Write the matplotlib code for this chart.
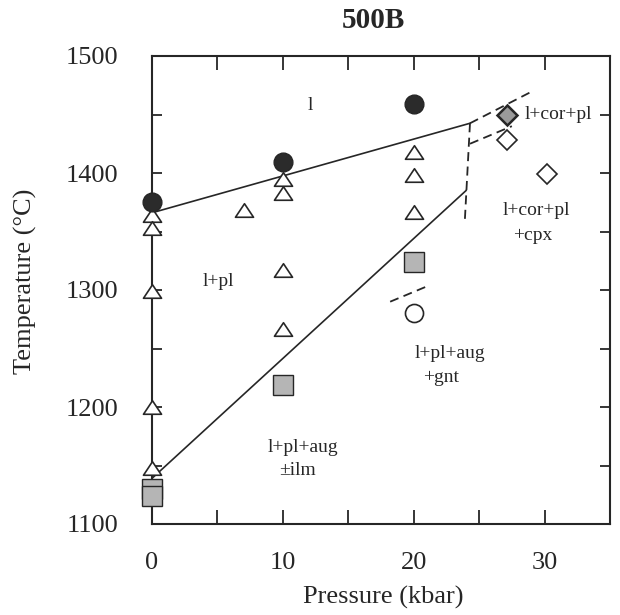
"""
500B 상평형도 (Pressure-Temperature)
"""
import matplotlib
matplotlib.use("Agg")
import matplotlib.pyplot as plt
from matplotlib.path import Path

plt.rcParams["font.family"] = ["Liberation Serif", "DejaVu Serif"]

# --- 실험 데이터 (kbar, °C) ---
liq_p = [0, 10, 20]
liq_t = [1375, 1409, 1459]

pl_p = [0, 0, 0, 0, 0, 7, 10, 10, 10, 10, 20, 20, 20]
pl_t = [1364, 1353, 1299, 1200, 1148, 1368, 1395, 1383, 1317, 1267, 1418, 1398, 1367]

aug_p = [0, 0, 10, 20]
aug_t = [1130, 1124, 1219, 1324]

gnt_p = [20]
gnt_t = [1280]

cor_pl_p = [27.1]
cor_pl_t = [1449.6]
cpx_p = [27.1, 30.15]
cpx_t = [1428, 1399]

# --- 상경계 ---
liquidus_p = [0, 24.3]
liquidus_t = [1366, 1442.5]
solidus_p = [0, 24.0]
solidus_t = [1139, 1385]

dashed_lines = [
    ([24.3, 23.9], [1442.5, 1358]),
    ([24.3, 29.0], [1442.5, 1469.5]),
    ([24.3, 27.5], [1425, 1440]),
    ([18.2, 21.2], [1290, 1304]),
]

# 영역 라벨: (텍스트, P, T)
labels = [
    ("l", 12.1, 1458),
    ("l+pl", 5.05, 1307),
    ("l+pl+aug", 11.55, 1165),
    ("\u00b1ilm", 11.1, 1146),
    ("l+pl+aug", 22.8, 1246),
    ("+gnt", 22.1, 1225),
    ("l+cor+pl", 31.05, 1449.6),
    ("l+cor+pl", 29.35, 1368),
    ("+cpx", 29.1, 1347),
]

x_major = [0, 10, 20, 30]
x_minor = [5, 15, 25]
y_major = [1100, 1200, 1300, 1400, 1500]
y_minor = [1150, 1250, 1350, 1450]

ink = "#262626"
# 옆으로 약간 넓은 삼각형 (닫힌 경로)
tri = Path([(-1, -0.75), (1, -0.75), (0, 0.75), (-1, -0.75)], closed=True)

fig = plt.figure(figsize=(6.2, 6.15), dpi=100)
ax = fig.add_axes([152 / 620, 1 - 524 / 615, 458 / 620, 468 / 615])

ax.plot(liquidus_p, liquidus_t, color=ink, lw=1.2, zorder=2)
ax.plot(solidus_p, solidus_t, color=ink, lw=1.2, zorder=2)
for px, pt in dashed_lines:
    ax.plot(px, pt, color=ink, lw=1.3, dashes=(5, 3), zorder=2)

mk = dict(ls="none", clip_on=False)
ax.plot(pl_p, pl_t, marker=tri, ms=13, mfc="white", mec=ink, mew=1.2, zorder=3, **mk)
ax.plot(aug_p, aug_t, marker="s", ms=14, mfc="#b5b5b5", mec=ink, mew=1.0, zorder=4, **mk)
ax.plot(liq_p, liq_t, marker="o", ms=13.5, mfc="#2b2b2b", mec=ink, mew=1.0, zorder=4, **mk)
ax.plot(gnt_p, gnt_t, marker="o", ms=13, mfc="white", mec=ink, mew=1.2, zorder=4, **mk)
ax.plot(cpx_p, cpx_t, marker="D", ms=10, mfc="white", mec=ink, mew=1.2, zorder=4, **mk)
ax.plot(cor_pl_p, cor_pl_t, marker="D", ms=10, mfc="#9a9a9a", mec=ink, mew=1.8, zorder=4, **mk)

for text, px, pt in labels:
    ax.text(px, pt, text, fontsize=14, ha="center", va="center", color=ink)

ax.set_xlim(0, 35)
ax.set_ylim(1100, 1500)
ax.set_xticks(x_major)
ax.set_xticks(x_minor, minor=True)
ax.set_yticks(y_major)
ax.set_yticks(y_minor, minor=True)
ax.tick_params(axis="x", which="both", direction="in", top=True, length=10, width=1.3,
               pad=20, labelsize=19, colors=ink)
ax.tick_params(axis="y", which="both", direction="in", right=True, length=7, width=1.3,
               pad=24, labelsize=19, colors=ink)
for sp in ax.spines.values():
    sp.set_linewidth(1.5)
    sp.set_color(ink)

fig.text(373 / 620, 1 - 20 / 615, "500B", fontsize=21, fontweight="bold", ha="center", va="center", color=ink)
fig.text(383 / 620, 1 - 597 / 615, "Pressure (kbar)", fontsize=19, ha="center", va="center", color=ink)
fig.text(25 / 620, 1 - 281 / 615, "Temperature (\u00b0C)", fontsize=19, rotation=90,
         ha="center", va="center", color=ink)

fig.savefig("out.png", dpi=100)
plt.close(fig)
